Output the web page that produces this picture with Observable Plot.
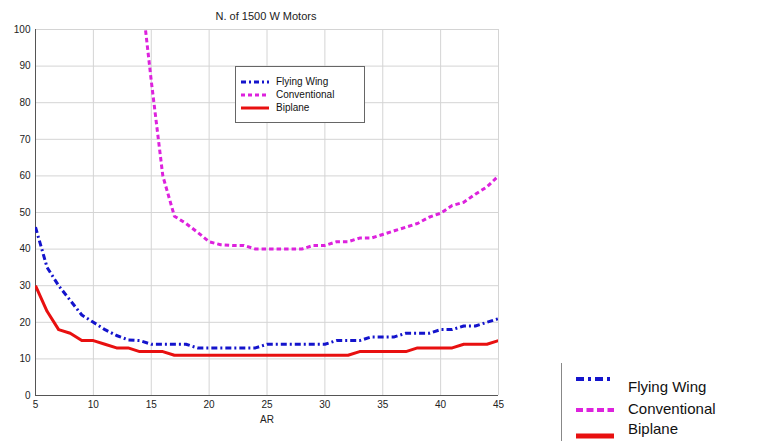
<!DOCTYPE html>
<html>
<head>
<meta charset="utf-8">
<script src="https://cdn.jsdelivr.net/npm/d3@7"></script>
<script src="https://cdn.jsdelivr.net/npm/@observablehq/plot@0.6"></script>
<style>
  body { margin: 0; background: #fff; font-family: "Liberation Sans", Arial, sans-serif; }
  #wrap { position: relative; width: 757px; height: 441px; overflow: hidden; }
  #title { position: absolute; left: 166px; width: 200px; top: 10px; text-align: center; font-size: 11px; color: #222; }
  .legend { position: absolute; background: #fff; }
  .legend .row { position: absolute; left: 0; white-space: nowrap; color: #111; }
  .legend svg { position: absolute; }
</style>
</head>
<body>
<div id="wrap">
  <div id="chart"></div>
  <div id="title">N. of 1500 W Motors</div>
</div>
<script>
const titleText = "N. of 1500 W Motors";
const seriesNames = ["Flying Wing", "Conventional", "Biplane"];
const seriesColors = ["#1414cc", "#dd22dd", "#e81010"];
const seriesDash = ["6,3,2,3", "4.5,3", null];
const xTicks = [5, 10, 15, 20, 25, 30, 35, 40, 45];
const yTicks = [0, 10, 20, 30, 40, 50, 60, 70, 80, 90, 100];

const arFlying = [5,6,7,8,9,10,11,12,13,14,15,16,17,18,19,20,21,22,23,24,25,26,27,28,29,30,31,32,33,34,35,36,37,38,39,40,41,42,43,44,45];
const flyingWing = [46,35,30,26,22,20,18,16.4,15.2,15,14,14,14,14,13,13,13,13,13,13,14,14,14,14,14,14,15,15,15,16,16,16,17,17,17,18,18,19,19,20,21];

const arConv = [14,15,16,17,18,19,20,21,22,23,24,25,26,27,28,29,30,31,32,33,34,35,36,37,38,39,40,41,42,43,44,45];
const conventional = [114,86,60,49,47,44.6,42,41.2,41,41,40,40,40,40,40,41,41,42,42,43,43,44,45,46,47,48.7,49.8,51.9,52.8,55,57,60];

const arBiplane = [5,6,7,8,9,10,11,12,13,14,15,16,17,18,19,20,21,22,23,24,25,26,27,28,29,30,31,32,33,34,35,36,37,38,39,40,41,42,43,44,45];
const biplane = [30,23,18,17,15,15,14,13,13,12,12,12,11,11,11,11,11,11,11,11,11,11,11,11,11,11,11,11,12,12,12,12,12,13,13,13,13,14,14,14,15];

const rows = [
  ...arFlying.map((x, i) => ({x, y: flyingWing[i], s: seriesNames[0]})),
  ...arConv.map((x, i) => ({x, y: conventional[i], s: seriesNames[1]})),
  ...arBiplane.map((x, i) => ({x, y: biplane[i], s: seriesNames[2]}))
];

const lineMarks = seriesNames.map((name, k) =>
  Plot.line(rows.filter(d => d.s === name), {
    x: "x", y: "y", stroke: seriesColors[k], strokeWidth: 3,
    strokeDasharray: seriesDash[k], strokeLinecap: "butt", strokeLinejoin: "round", clip: true
  })
);

const chart = Plot.plot({
  width: 757, height: 441,
  marginLeft: 35, marginRight: 259, marginTop: 29, marginBottom: 46,
  x: {domain: [5, 45]},
  y: {domain: [0, 100]},
  style: {fontFamily: "'Liberation Sans', Arial, sans-serif", fontSize: "10px", color: "#222", background: "#fff"},
  marks: [
    Plot.gridX(xTicks, {stroke: "#d4d4d4", strokeOpacity: 1}),
    Plot.gridY(yTicks, {stroke: "#d4d4d4", strokeOpacity: 1}),
    Plot.axisX(xTicks, {tickSize: 0, tickPadding: 5, label: "AR", labelAnchor: "center", labelArrow: "none", labelOffset: 27}),
    Plot.axisY(yTicks, {tickSize: 0, tickPadding: 5, label: null}),
    Plot.ruleX([5], {stroke: "#555"}),
    Plot.ruleY([0], {stroke: "#555"}),
    ...lineMarks
  ]
});
document.getElementById("chart").appendChild(chart);

function makeLegend(opts) {
  const wrap = document.getElementById("wrap");
  const box = document.createElement("div");
  box.className = "legend";
  Object.assign(box.style, opts.boxStyle);
  seriesNames.forEach((name, k) => {
    const svg = d3.create("svg").attr("width", opts.swW + 4).attr("height", 8)
      .style("left", opts.swX + "px").style("top", (opts.rowY[k] - 4) + "px");
    svg.append("line").attr("x1", 2).attr("x2", opts.swW + 2).attr("y1", 4).attr("y2", 4)
      .attr("stroke", seriesColors[k]).attr("stroke-width", opts.sw[k])
      .attr("stroke-dasharray", seriesDash[k] ? opts.dash[k] : null);
    box.appendChild(svg.node());
    const t = document.createElement("div");
    t.className = "row";
    t.textContent = name;
    Object.assign(t.style, {left: opts.textX + "px", top: (opts.textY[k] - opts.fs * 0.6) + "px", fontSize: opts.fs + "px", lineHeight: "1.2"});
    box.appendChild(t);
  });
  wrap.appendChild(box);
}

makeLegend({
  boxStyle: {left: "235px", top: "66px", width: "128px", height: "55px", border: "1px solid #666"},
  swX: 3, swW: 28, rowY: [15, 28, 41], textX: 40, textY: [15, 28, 41], fs: 10,
  sw: [3, 3, 3], dash: ["5,3,2,3", "4,3", null]
});

makeLegend({
  boxStyle: {left: "561px", top: "363px", width: "196px", height: "78px", borderLeft: "1px solid #888", background: "transparent"},
  swX: 12, swW: 38, rowY: [16, 47, 73], textX: 66, textY: [24, 46, 66], fs: 15,
  sw: [4, 4, 5], dash: ["8,4,3,4", "7,3.5", null]
});
</script>
</body>
</html>
